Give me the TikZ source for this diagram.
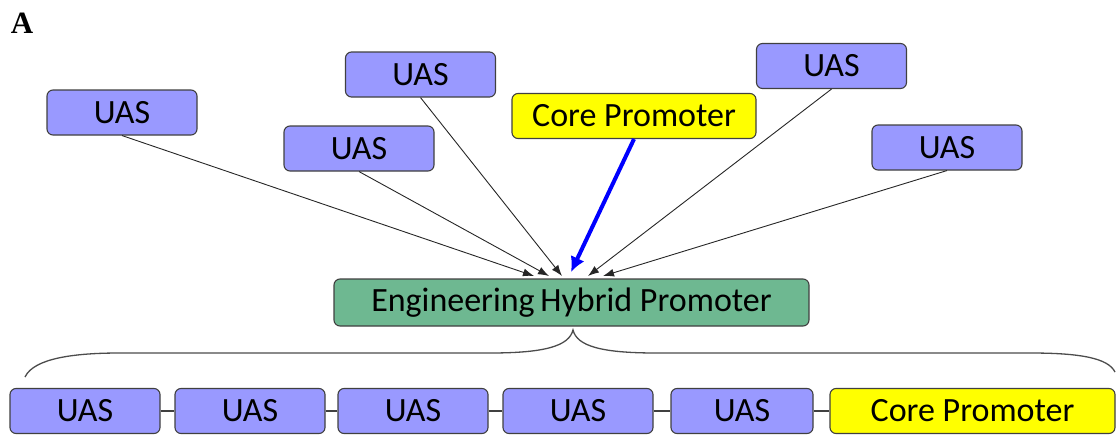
\documentclass[tikz,border=0pt]{standalone}
\usepackage{fontspec}
\setmainfont{Carlito}
\newfontfamily\labelfont{Liberation Serif}
\usetikzlibrary{arrows.meta}
\definecolor{uasfill}{RGB}{153,153,255}
\definecolor{hybfill}{RGB}{110,184,145}
\definecolor{coreyel}{RGB}{255,255,0}
\definecolor{edgegray}{RGB}{64,64,64}
\tikzset{
  box/.style={draw=edgegray, line width=1.1pt, rounded corners=6pt, minimum height=45pt, inner sep=0pt, font=\fontsize{34}{38}\selectfont, text=black},
  uas/.style={box, fill=uasfill, minimum width=150pt},
  core/.style={box, fill=coreyel},
  hyb/.style={box, fill=hybfill},
  thinarrow/.style={draw=black!85, line width=0.9pt, -{Latex[length=11pt,width=8pt]}},
  bluearrow/.style={draw=blue, line width=4pt, -{Latex[length=15pt,width=15pt]}},
  link/.style={draw=edgegray, line width=1.1pt},
  bracestyle/.style={draw=black!70, line width=1.3pt}
}
\begin{document}
\begin{tikzpicture}[x=1pt,y=-1pt]
\useasboundingbox (0,0) rectangle (1117,434);
\node[font=\labelfont\bfseries\fontsize{31}{33}\selectfont] (lab) at (22,23) {A};
% top boxes
\node[uas] (u1) at (122,112.5) {UAS};
\node[uas] (u2) at (359,148.5) {UAS};
\node[uas] (u3) at (420.5,74.5) {UAS};
\node[core, minimum width=244pt] (c1) at (634,116) {Core Promoter};
\node[uas] (u4) at (831.5,66) {UAS};
\node[uas] (u5) at (947,147.5) {UAS};
% hybrid
\node[hyb, minimum width=475pt, minimum height=47pt] (ehp) at (571.5,302.5) {Engineering\,Hybrid Promoter};
% targets
\coordinate (t1) at (534,276);
\coordinate (t2) at (549,276);
\coordinate (t3) at (562,276);
\coordinate (t4) at (571,272);
\coordinate (t5) at (588,276);
\coordinate (t6) at (603,276);
\draw[thinarrow] (u1.south) -- (t1);
\draw[thinarrow] (u2.south) -- (t2);
\draw[thinarrow] (u3.south) -- (t3);
\draw[bluearrow] (c1.south) -- (t4);
\draw[thinarrow] (u4.south) -- (t5);
\draw[thinarrow] (u5.south) -- (t6);
% brace
\coordinate (cusp) at (573,330);
\draw[bracestyle] (25,377) .. controls (34,358) and (75,353) .. (120,353) -- (490,353) .. controls (545,353) and (569,346) .. (cusp) .. controls (577,346) and (601,353) .. (656,353) -- (1030,353) .. controls (1080,353) and (1108,358) .. (1115,372);
% bottom row
\node[uas] (b1) at (85,411) {UAS};
\node[uas] (b2) at (250,411) {UAS};
\node[uas] (b3) at (413,411) {UAS};
\node[uas] (b4) at (578,411) {UAS};
\node[uas, minimum width=142pt] (b5) at (742,411) {UAS};
\node[core, minimum width=285pt] (b6) at (972.5,411) {Core Promoter};
\draw[link] (b1.east) -- (b2.west);
\draw[link] (b2.east) -- (b3.west);
\draw[link] (b3.east) -- (b4.west);
\draw[link] (b4.east) -- (b5.west);
\draw[link] (b5.east) -- (b6.west);
\end{tikzpicture}
\end{document}
